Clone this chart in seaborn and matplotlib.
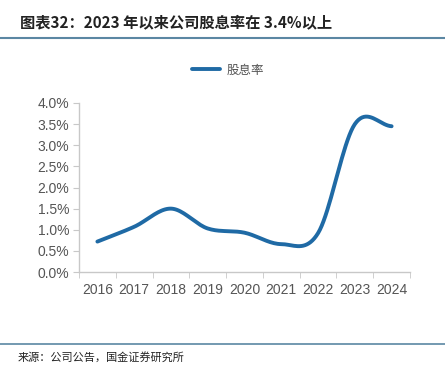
import numpy as np
import matplotlib
matplotlib.use("Agg")
import matplotlib.pyplot as plt
import seaborn as sns
import pandas as pd

years = ["2016", "2017", "2018", "2019", "2020", "2021", "2022", "2023", "2024"]
dividend_yield = [0.72, 1.07, 1.50, 1.03, 0.93, 0.66, 0.92, 3.50, 3.45]

sns.set_style("white")
plt.rcParams['font.family'] = ['Noto Sans CJK SC', 'DejaVu Sans']

df = pd.DataFrame({"year": years, "yield": dividend_yield})
df["pos"] = np.arange(len(df))


def smooth(x, y, n=20):
    # catmull-rom style smoothing, like an Excel smoothed line
    x = np.asarray(x, float)
    y = np.asarray(y, float)
    px = np.concatenate([[2 * x[0] - x[1]], x, [2 * x[-1] - x[-2]]])
    py = np.concatenate([[2 * y[0] - y[1]], y, [2 * y[-1] - y[-2]]])
    xs, ys = [], []
    for i in range(1, len(px) - 2):
        t = np.linspace(0, 1, n, endpoint=False)
        for p, out in ((px, xs), (py, ys)):
            p0, p1, p2, p3 = p[i - 1], p[i], p[i + 1], p[i + 2]
            out.extend(0.5 * ((2 * p1) + (-p0 + p2) * t
                              + (2 * p0 - 5 * p1 + 4 * p2 - p3) * t ** 2
                              + (-p0 + 3 * p1 - 3 * p2 + p3) * t ** 3))
    xs.append(x[-1])
    ys.append(y[-1])
    return pd.DataFrame({"pos": xs, "yield": ys})


curve = smooth(df["pos"], df["yield"])

fig = plt.figure(figsize=(4.45, 3.66), dpi=100)
ax = fig.add_axes([79 / 445, (366 - 272) / 366, (410 - 79) / 445, 169 / 366])

sns.lineplot(data=curve, x="pos", y="yield", ax=ax, color="#1f6aa5",
             linewidth=2.8, sort=False, label="股息率", solid_capstyle="round")

ax.set_xlim(-0.5, len(years) - 0.5)
ax.set_ylim(0, 4.0)
ax.set_yticks(np.arange(0, 4.01, 0.5))
ax.set_yticklabels([f"{v:.1f}%" for v in np.arange(0, 4.01, 0.5)])
ax.set_xticks(df["pos"])
ax.set_xticklabels(years)
ax.set_xticks(np.arange(-0.5, len(years), 1), minor=True)
ax.set_xlabel("")
ax.set_ylabel("")

for s in ["top", "right"]:
    ax.spines[s].set_visible(False)
for s in ["left", "bottom"]:
    ax.spines[s].set_color("#c8c8c8")
    ax.spines[s].set_linewidth(1.0)

ax.tick_params(axis="x", which="major", length=0, labelsize=10, colors="#555555", pad=8)
ax.tick_params(axis="x", which="minor", length=4, color="#c8c8c8", bottom=True)
ax.tick_params(axis="y", length=4, left=True, color="#c8c8c8", labelsize=10, colors="#555555", pad=3)
for lab in ax.get_xticklabels() + ax.get_yticklabels():
    lab.set_family(["Liberation Sans", "DejaVu Sans"])

leg = ax.legend(loc="upper center", bbox_to_anchor=(0.45, 1.3), frameon=False,
                fontsize=9, handlelength=2.3, handletextpad=0.5)
for t in leg.get_texts():
    t.set_color("#555555")

# title and source
fig.text(20 / 445, 1 - 22 / 366, "图表32：2023 年以来公司股息率在 3.4%以上",
         fontsize=11, fontstyle="italic", fontweight="bold", va="center", ha="left", color="#222222")
fig.add_artist(plt.Line2D([0, 1], [1 - 38 / 366, 1 - 38 / 366], color="#5b87a3", linewidth=1.5))
fig.add_artist(plt.Line2D([0, 1], [1 - 344 / 366, 1 - 344 / 366], color="#5b87a3", linewidth=1.2))
fig.text(18 / 445, 1 - 357 / 366, "来源：公司公告，国金证券研究所", fontsize=8,
         va="center", ha="left", color="#222222")

fig.savefig("out.png", dpi=100)
